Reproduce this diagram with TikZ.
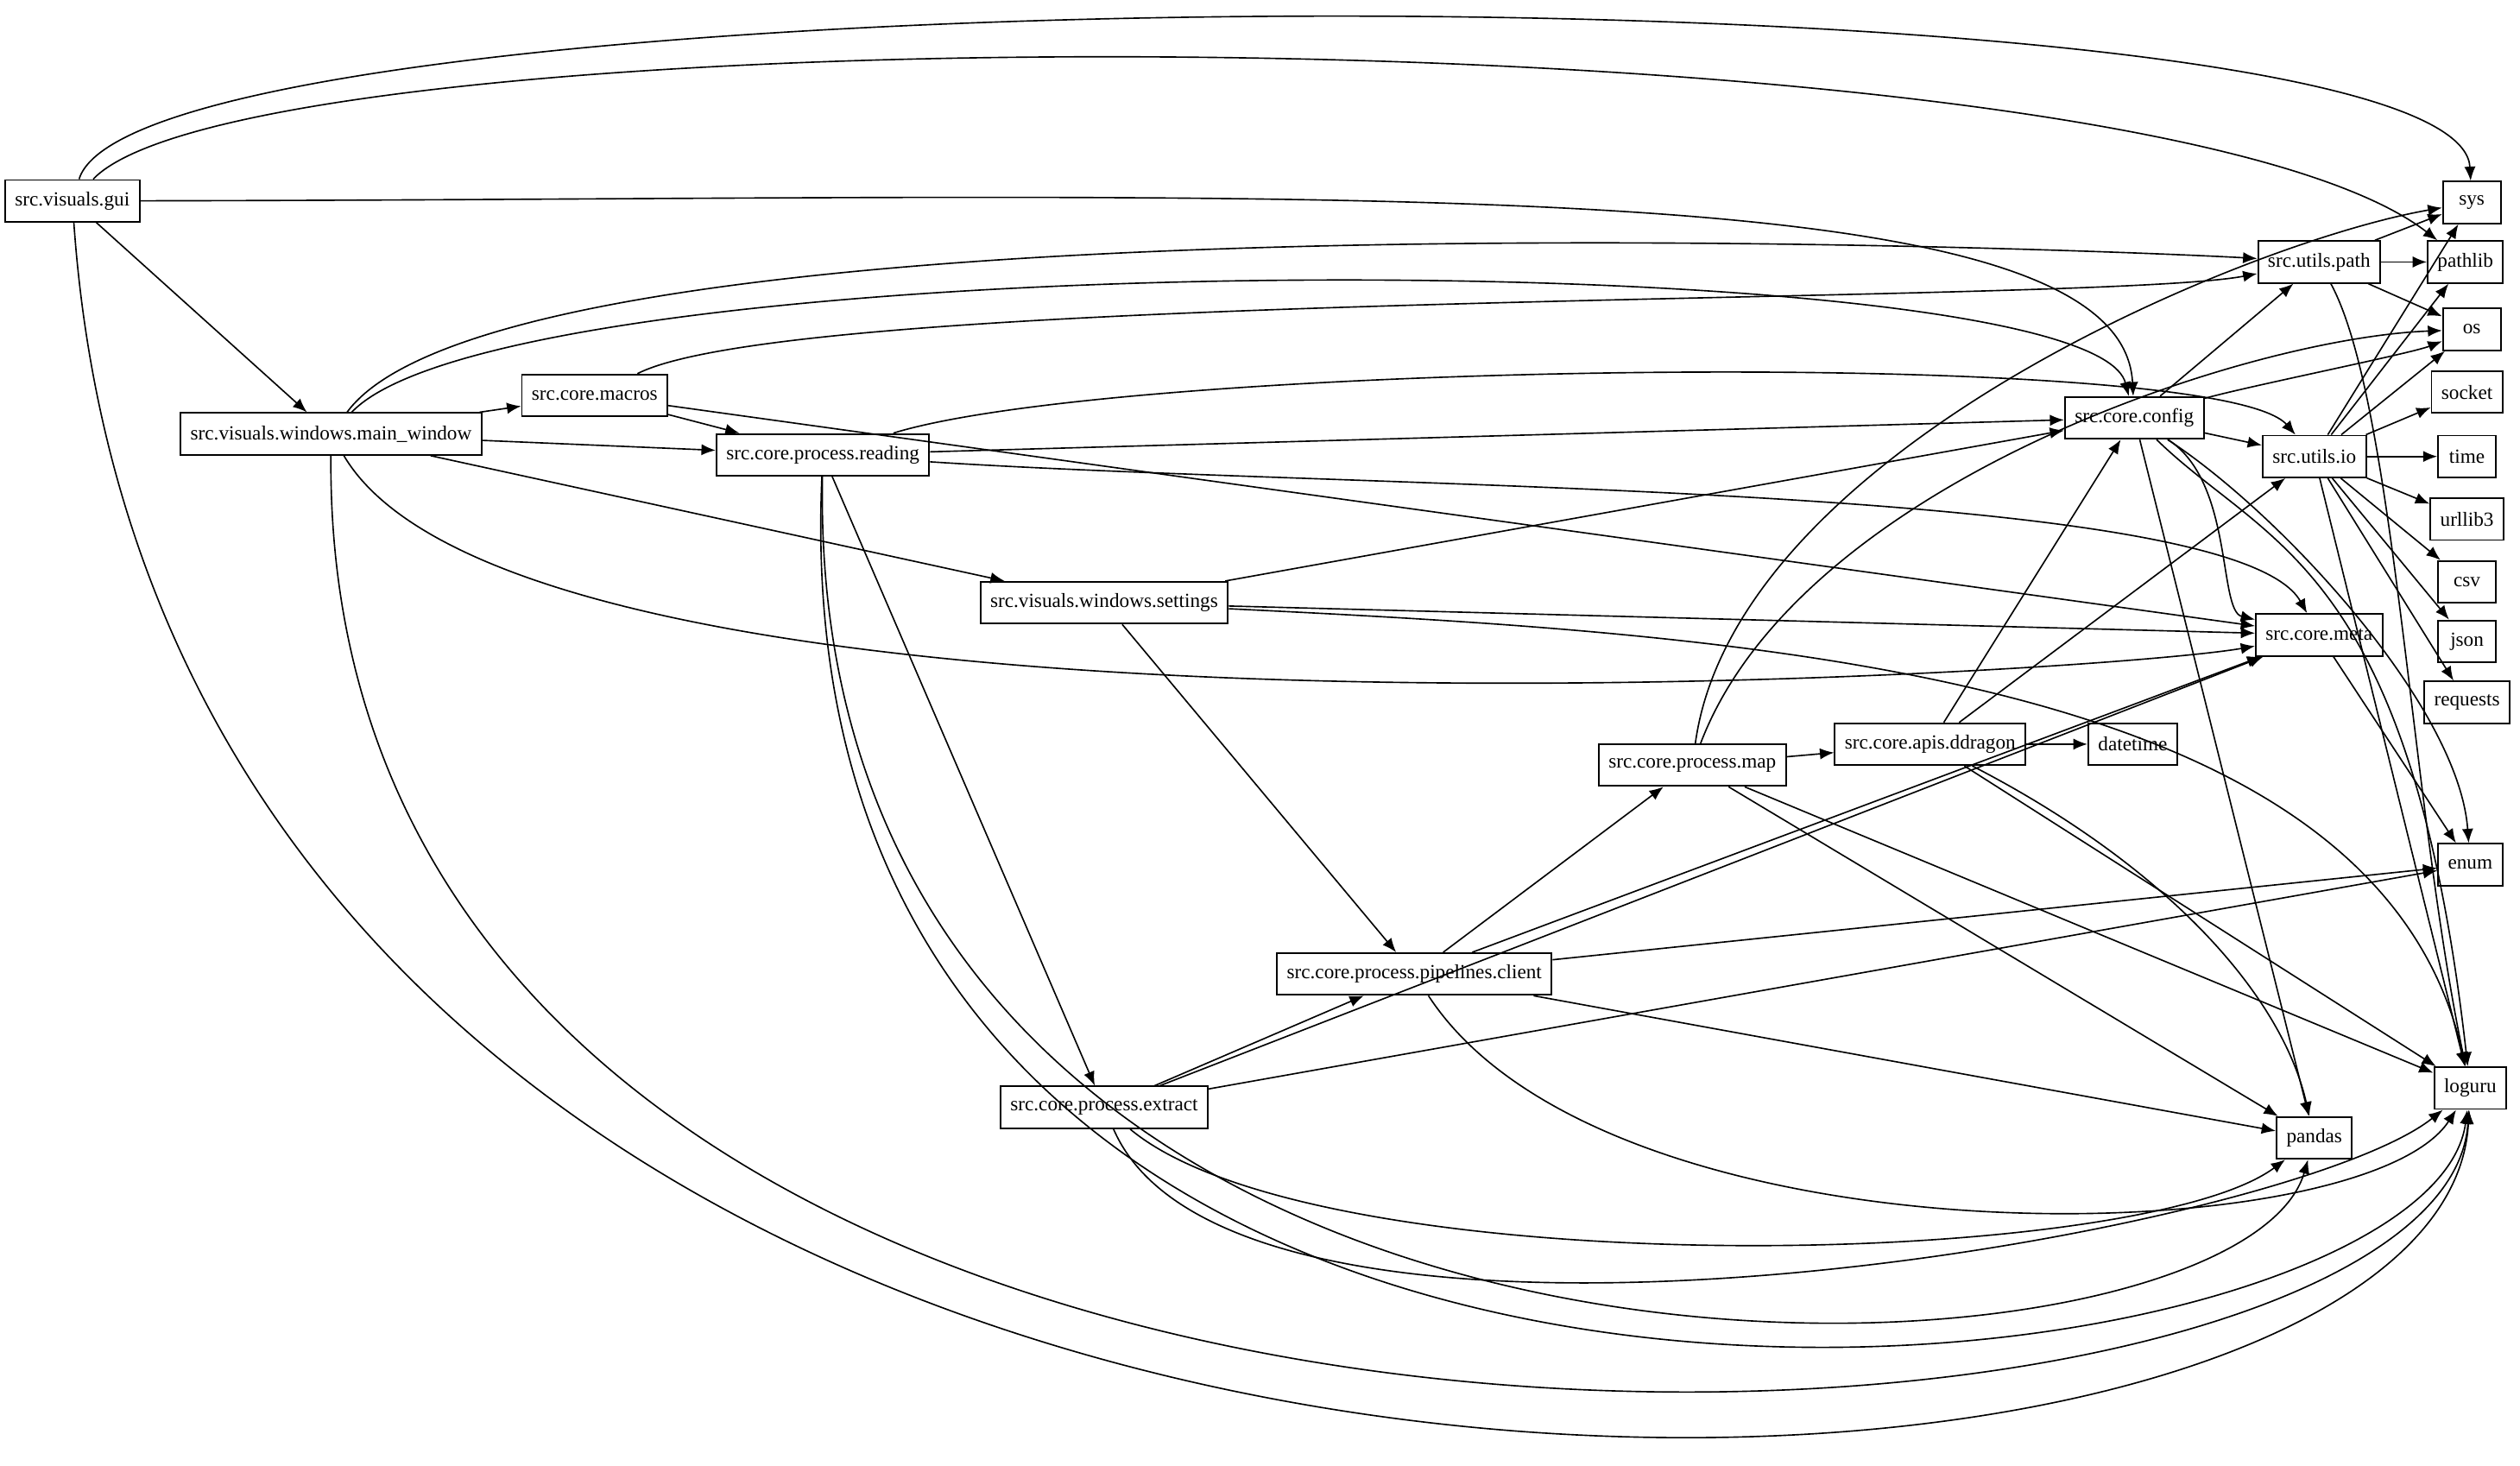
\documentclass[tikz,border=0pt]{standalone}
\usepackage{fontspec}
\setmainfont{Liberation Serif}
\usetikzlibrary{arrows.meta}
\begin{document}
\begin{tikzpicture}[x=0.02cm,y=-0.02cm,
 n/.style={draw,line width=0.6pt,inner xsep=3.5pt,minimum height=0.52cm,minimum width=0.72cm,font=\fontsize{7.1}{9}\selectfont},
 e/.style={-{Latex[length=5pt,width=4pt]},line width=0.5pt}]
\useasboundingbox (0,0) rectangle (1568,912);
\node[n] (gui) at (45,125) {src.visuals.gui};
\node[n] (sys) at (1538,126) {sys};
\node[n] (pathlib) at (1534,163) {pathlib};
\node[n] (upath) at (1443,163) {src.utils.path};
\node[n] (os) at (1538,205) {os};
\node[n] (socket) at (1535,244) {socket};
\node[n] (config) at (1328,260) {src.core.config};
\node[n] (uio) at (1440,284) {src.utils.io};
\node[n] (time) at (1535,284) {time};
\node[n] (urllib) at (1535,323) {urllib3};
\node[n] (csv) at (1535,362) {csv};
\node[n] (json) at (1535,399) {json};
\node[n] (req) at (1535,437) {requests};
\node[n] (mw) at (206,270) {src.visuals.windows.main\_window};
\node[n] (macros) at (370,246) {src.core.macros};
\node[n] (reading) at (512,283) {src.core.process.reading};
\node[n] (settings) at (687,375) {src.visuals.windows.settings};
\node[n] (meta) at (1443,395) {src.core.meta};
\node[n] (map) at (1053,476) {src.core.process.map};
\node[n] (dd) at (1201,463) {src.core.apis.ddragon};
\node[n] (dt) at (1327,463) {datetime};
\node[n] (enum) at (1537,538) {enum};
\node[n] (pipe) at (880,606) {src.core.process.pipelines.client};
\node[n] (extract) at (687,689) {src.core.process.extract};
\node[n] (loguru) at (1537,677) {loguru};
\node[n] (pandas) at (1440,708) {pandas};
% gui
\draw[e] (gui) .. controls (90,-20) and (1530,-25) .. (sys);
\draw[e] (gui) .. controls (160,5) and (1330,5) .. (pathlib);
\draw[e] (gui) .. controls (800,124) and (1320,100) .. (config);
\draw[e] (gui) -- (mw);
\draw[e] (gui) .. controls (110,1050) and (1520,1000) .. (loguru);
% main window
\draw[e] (mw) .. controls (320,115) and (1300,155) .. (upath);
\draw[e] (mw) .. controls (320,150) and (1300,150) .. (config);
\draw[e] (mw) -- (macros);
\draw[e] (mw) -- (reading);
\draw[e] (mw) -- (settings);
\draw[e] (mw) .. controls (330,480) and (1300,420) .. (meta);
\draw[e] (mw) .. controls (200,1010) and (1520,940) .. (loguru);
% macros
\draw[e] (macros) .. controls (500,180) and (1300,190) .. (upath);
\draw[e] (macros) -- (reading);
\draw[e] (macros) -- (meta);
% reading
\draw[e] (reading) -- (config);
\draw[e] (reading) .. controls (700,225) and (1380,215) .. (uio);
\draw[e] (reading) .. controls (850,305) and (1390,300) .. (meta);
\draw[e] (reading) -- (extract);
\draw[e] (reading) .. controls (500,920) and (1390,880) .. (pandas);
\draw[e] (reading) .. controls (480,1000) and (1510,880) .. (loguru);
% settings
\draw[e] (settings) -- (config);
\draw[e] (settings) -- (meta);
\draw[e] (settings) .. controls (1100,395) and (1480,420) .. (loguru);
\draw[e] (settings) -- (pipe);
% map
\draw[e] (map) .. controls (1080,280) and (1400,150) .. (sys);
\draw[e] (map) .. controls (1120,300) and (1400,210) .. (os);
\draw[e] (map) -- (dd);
\draw[e] (map) -- (pandas);
\draw[e] (map) -- (loguru);
% ddragon
\draw[e] (dd) -- (config);
\draw[e] (dd) -- (uio);
\draw[e] (dd) -- (dt);
\draw[e] (dd) .. controls (1350,540) and (1420,620) .. (pandas);
\draw[e] (dd) -- (loguru);
% pipelines
\draw[e] (pipe) -- (map);
\draw[e] (pipe) -- (meta);
\draw[e] (pipe) -- (enum);
\draw[e] (pipe) -- (pandas);
\draw[e] (pipe) .. controls (1000,790) and (1470,780) .. (loguru);
% extract
\draw[e] (extract) -- (pipe);
\draw[e] (extract) -- (meta);
\draw[e] (extract) -- (enum);
\draw[e] (extract) .. controls (820,800) and (1330,790) .. (pandas);
\draw[e] (extract) .. controls (770,880) and (1420,770) .. (loguru);
% config
\draw[e] (config) -- (upath);
\draw[e] (config) .. controls (1400,240) and (1500,220) .. (os);
\draw[e] (config) -- (uio);
\draw[e] (config) .. controls (1390,300) and (1380,380) .. (meta);
\draw[e] (config) -- (pandas);
\draw[e] (config) .. controls (1420,320) and (1530,440) .. (enum);
\draw[e] (config) .. controls (1410,340) and (1500,350) .. (loguru);
% utils.path
\draw[e] (upath) -- (sys);
\draw[e] (upath) -- (pathlib);
\draw[e] (upath) -- (os);
\draw[e] (upath) .. controls (1490,250) and (1500,500) .. (loguru);
% utils.io
\draw[e] (uio) -- (sys);
\draw[e] (uio) -- (pathlib);
\draw[e] (uio) -- (os);
\draw[e] (uio) -- (socket);
\draw[e] (uio) -- (time);
\draw[e] (uio) -- (urllib);
\draw[e] (uio) -- (csv);
\draw[e] (uio) -- (json);
\draw[e] (uio) -- (req);
\draw[e] (uio) -- (loguru);
% meta
\draw[e] (meta) -- (enum);
\end{tikzpicture}
\end{document}
